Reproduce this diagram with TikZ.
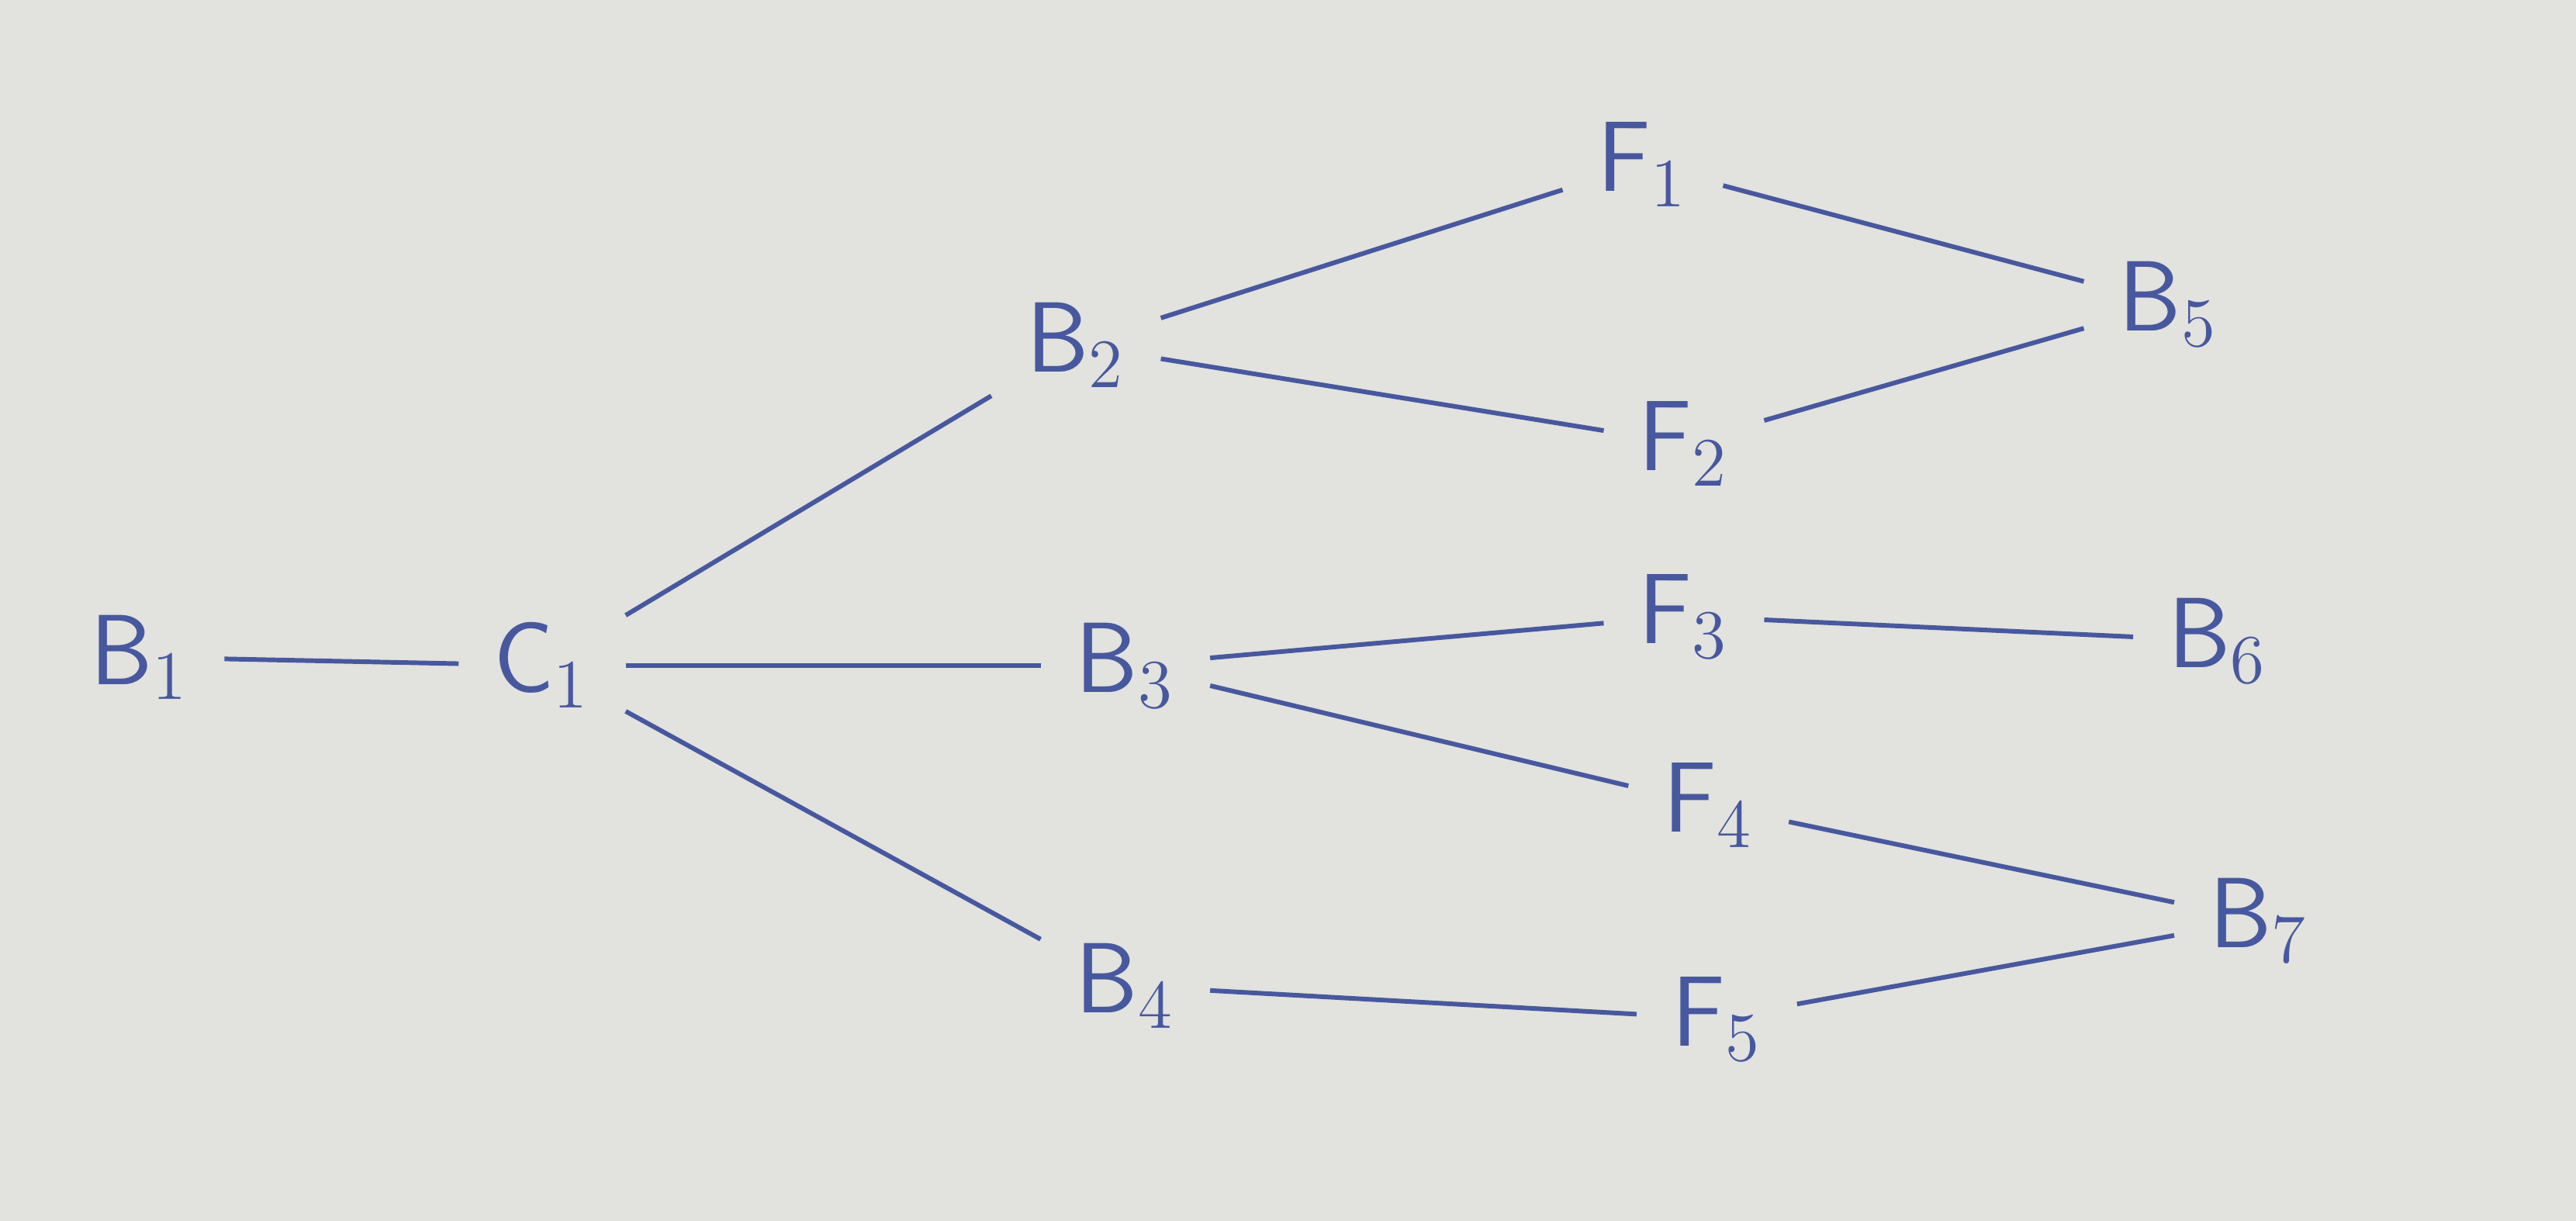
\documentclass[tikz,border=0pt]{standalone}
\usepackage{tikz}
\definecolor{ink}{RGB}{72,88,158}
\definecolor{paper}{RGB}{226,226,222}
\begin{document}
\begin{tikzpicture}[thick, ink, main/.style = {draw=none, inner sep=0.2cm, font=\fontsize{18}{20}\selectfont}]
            \fill[paper] (0,0) rectangle (15.68,7.43);
            \useasboundingbox (0,0) rectangle (15.68,7.43);
            \node[main] (1)  at (0.85,3.43)  {\(\mathsf{B}_1\)};
            \node[main] (2)  at (3.30,3.38)  {\(\mathsf{C}_1\)};
            \node[main] (3)  at (6.55,5.33)  {\(\mathsf{B}_2\)};
            \node[main] (4)  at (6.85,3.38)  {\(\mathsf{B}_3\)};
            \node[main] (5)  at (6.85,1.43)  {\(\mathsf{B}_4\)};
            \node[main] (6)  at (10.00,6.43) {\(\mathsf{F}_1\)};
            \node[main] (7)  at (10.25,4.73) {\(\mathsf{F}_2\)};
            \node[main] (8)  at (10.25,3.68) {\(\mathsf{F}_3\)};
            \node[main] (9)  at (10.40,2.53) {\(\mathsf{F}_4\)};
            \node[main] (10) at (10.45,1.23) {\(\mathsf{F}_5\)};
            \node[main] (11) at (13.20,5.58) {\(\mathsf{B}_5\)};
            \node[main] (12) at (13.50,3.53) {\(\mathsf{B}_6\)};
            \node[main] (13) at (13.75,1.83) {\(\mathsf{B}_7\)};

            \draw (1) to (2);
            \draw (2) to (3);
            \draw (2) to (4);
            \draw (2) to (5);
            \draw (3) to (6);
            \draw (3) to (7);
            \draw (6) to (11);
            \draw (7) to (11);
            \draw (4) to (8);
            \draw (4) to (9);
            \draw (8) to (12);
            \draw (9) to (13);
            \draw (5) to (10);
            \draw (10) to (13);
        \end{tikzpicture}
\end{document}
